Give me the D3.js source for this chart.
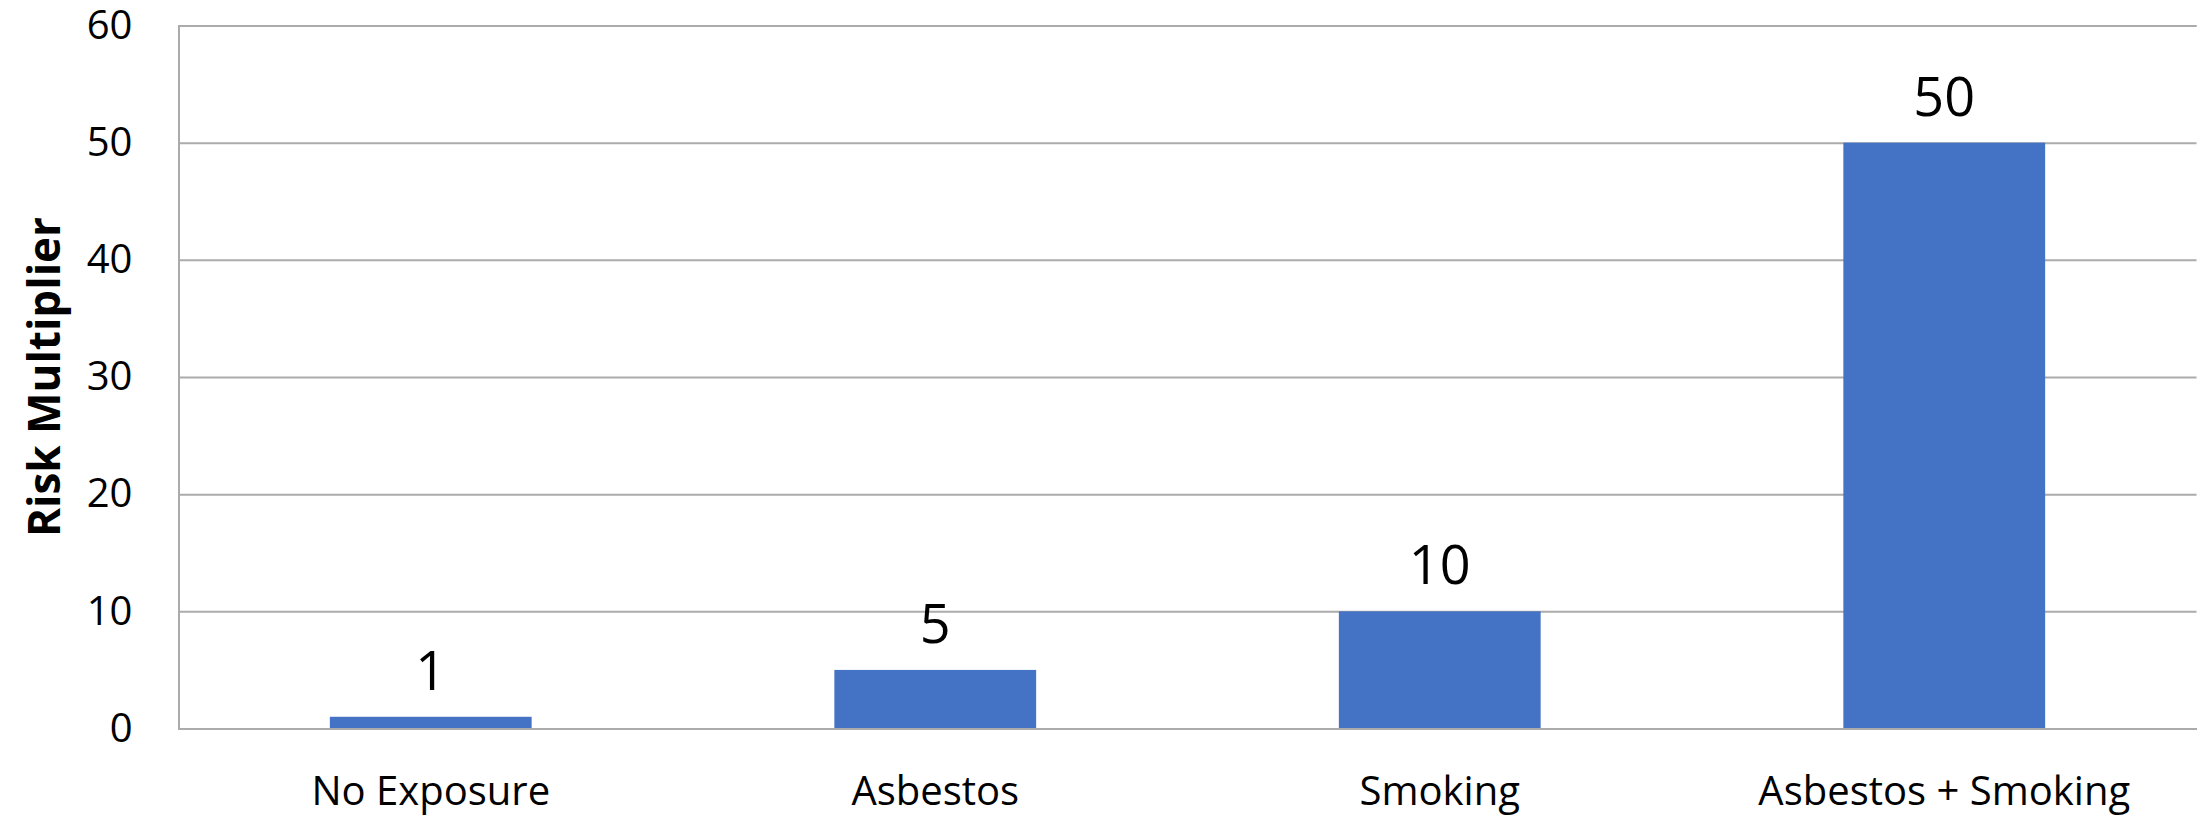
<!DOCTYPE html>
<html>
<head>
<meta charset="utf-8">
<script src="https://cdn.jsdelivr.net/npm/d3@7"></script>
<style>
  html, body { margin: 0; padding: 0; background: #ffffff; }
  svg { display: block; font-family: "Open Sans", "Noto Sans", sans-serif; }
</style>
</head>
<body>
<svg id="chart" width="2205" height="817"></svg>
<script>
// Relative lung-cancer risk by exposure type
const categories = ["No Exposure", "Asbestos", "Smoking", "Asbestos + Smoking"];
const riskValues = [1, 5, 10, 50];
const yTicks = [0, 10, 20, 30, 40, 50, 60];
const yTitle = "Risk Multiplier";

const W = 2205, H = 817;
const margin = { top: 25.5, right: 8.5, bottom: 88.5, left: 178.5 };
const innerW = W - margin.left - margin.right;
const innerH = H - margin.top - margin.bottom;

const svg = d3.select("#chart");
const g = svg.append("g").attr("transform", `translate(${margin.left},${margin.top})`);

const x = d3.scaleBand().domain(categories).range([0, innerW]).paddingInner(0.6).paddingOuter(0.3);
const y = d3.scaleLinear().domain([0, 60]).range([innerH, 0]);

const gridColor = "#ababab";

// horizontal gridlines + value labels via the left axis
const yAxis = g.append("g")
  .call(d3.axisLeft(y).tickValues(yTicks).tickSize(-innerW).tickPadding(46).tickFormat(d3.format("d")));
yAxis.select(".domain").attr("stroke", gridColor).attr("stroke-width", 2);
yAxis.selectAll(".tick line").attr("stroke", gridColor).attr("stroke-width", 2);
yAxis.selectAll(".tick text")
  .attr("fill", "#000")
  .attr("font-size", 40)
  .attr("font-family", "Open Sans, sans-serif");

// bars
g.selectAll("rect.bar")
  .data(riskValues)
  .join("rect")
  .attr("class", "bar")
  .attr("x", (d, i) => x(categories[i]))
  .attr("width", x.bandwidth())
  .attr("y", d => y(d))
  .attr("height", d => innerH - y(d))
  .attr("fill", "#4472c4");

// category axis along the baseline
const xAxis = g.append("g")
  .attr("transform", `translate(0,${innerH})`)
  .call(d3.axisBottom(x).tickSize(0).tickPadding(48));
xAxis.select(".domain").attr("stroke", gridColor).attr("stroke-width", 2);
xAxis.selectAll(".tick text")
  .attr("fill", "#000")
  .attr("font-size", 40)
  .attr("font-family", "Open Sans, sans-serif");

// value labels above each bar
g.selectAll("text.val")
  .data(riskValues)
  .join("text")
  .attr("class", "val")
  .attr("x", (d, i) => x(categories[i]) + x.bandwidth() / 2)
  .attr("y", d => y(d) - 27)
  .attr("text-anchor", "middle")
  .attr("font-size", 54)
  .attr("fill", "#000")
  .text(d => d);

// vertical axis title
svg.append("text")
  .attr("transform", `translate(60,${margin.top + innerH / 2}) rotate(-90)`)
  .attr("text-anchor", "middle")
  .attr("font-size", 44)
  .attr("font-weight", "bold")
  .attr("fill", "#000")
  .text(yTitle);
</script>
</body>
</html>
